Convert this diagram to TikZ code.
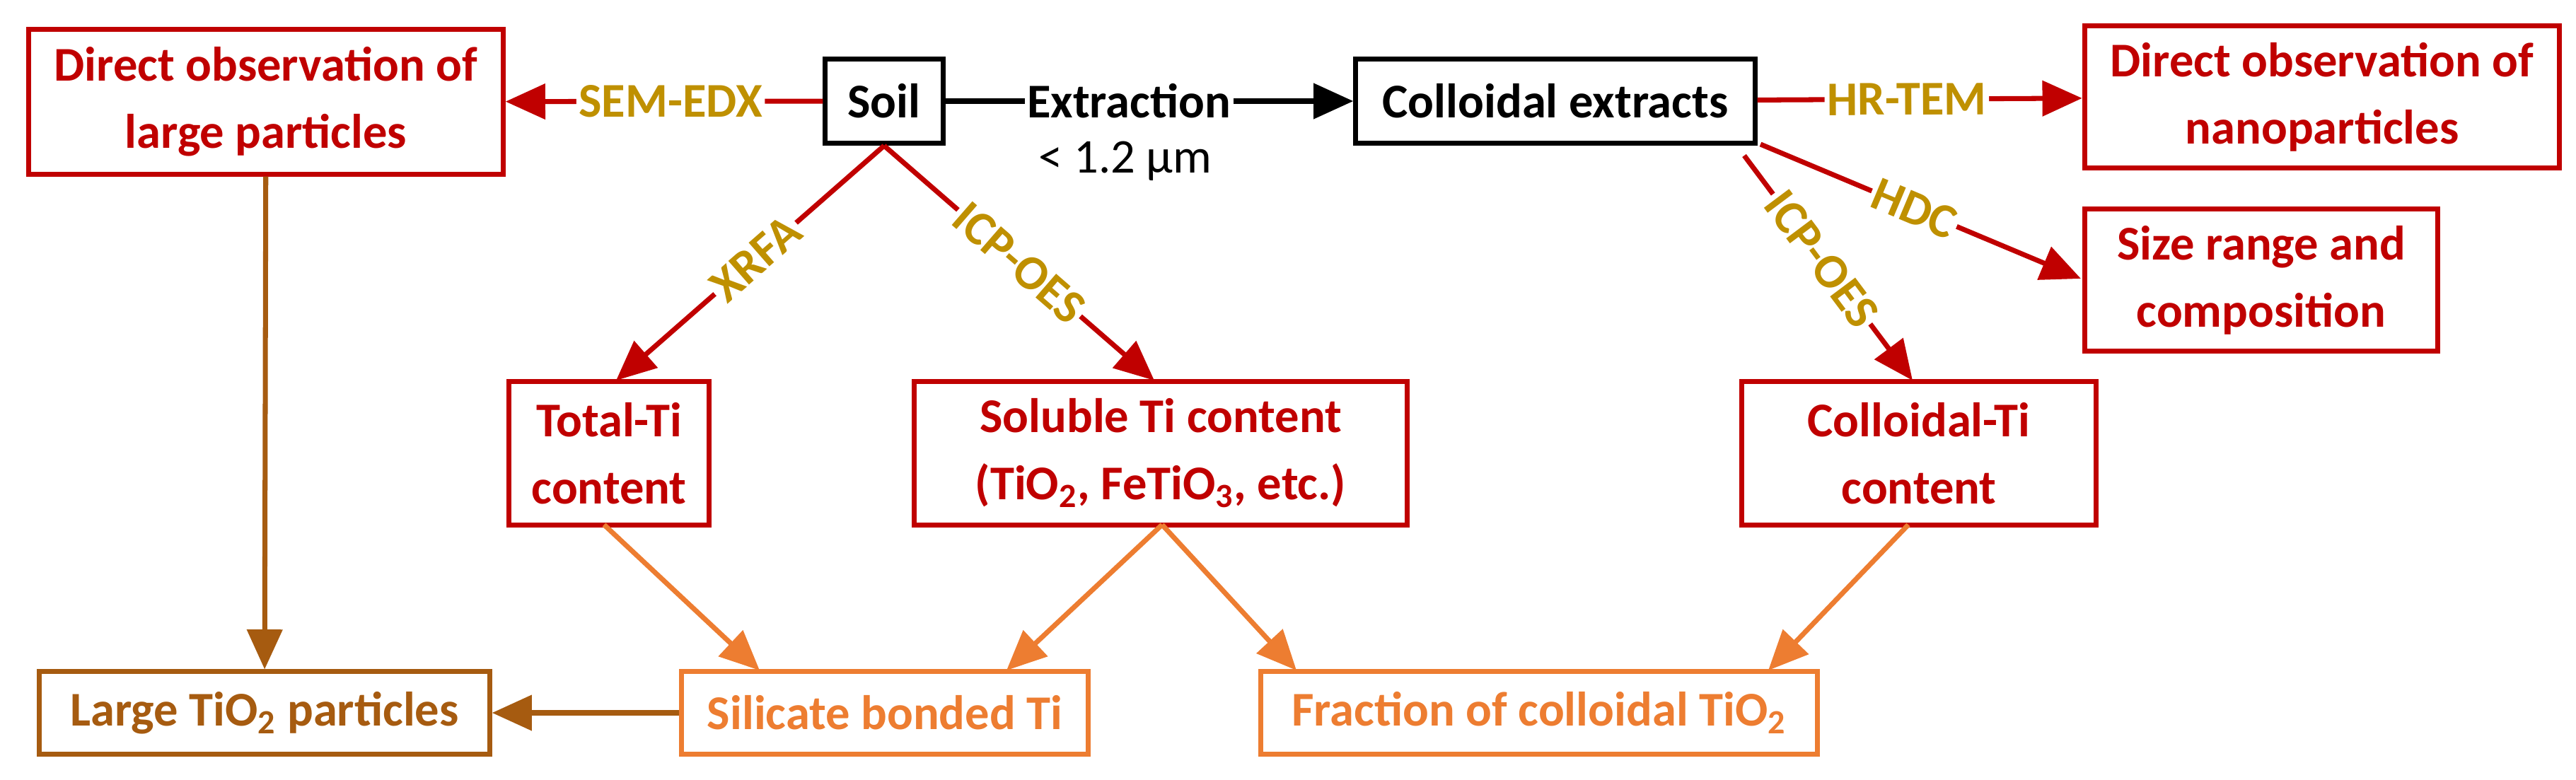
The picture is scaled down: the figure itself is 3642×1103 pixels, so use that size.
\documentclass[tikz,border=0pt]{standalone}
\usepackage{fontspec}
\setmainfont{Carlito}
\usetikzlibrary{arrows.meta}
\definecolor{cred}{HTML}{C00000}
\definecolor{cgold}{HTML}{BF9000}
\definecolor{corange}{HTML}{ED7D31}
\definecolor{cbrown}{HTML}{A65B10}
\begin{document}
\begin{tikzpicture}[x=0.01cm,y=-0.01cm,
  every node/.style={font=\fontsize{19.5}{27}\selectfont\bfseries},
  box/.style={draw, line width=2pt, align=center, inner sep=2pt},
  rbox/.style={box, draw=cred, text=cred},
  obox/.style={box, draw=corange, text=corange},
  arr/.style={line width=2pt, -{Triangle[length=16pt,width=14pt]}},
  lab/.style={fill=white, text=cgold, inner sep=1pt, sloped}]
\useasboundingbox (0,0) rectangle (3642,1103);
\node[rbox, minimum width=6.70cm, minimum height=2.04cm] (dl) at (376,144) {Direct observation of\\large particles};
\node[box, minimum width=1.66cm, minimum height=1.19cm] (soil) at (1250,143) {Soil};
\node[box, minimum width=5.64cm, minimum height=1.19cm] (ce) at (2199,143) {Colloidal extracts};
\node[rbox, minimum width=6.71cm, minimum height=2.01cm] (dn) at (3283,137) {Direct observation of\\nanoparticles};
\node[rbox, minimum width=4.99cm, minimum height=2.01cm] (sr) at (3197,396) {Size range and\\composition};
\node[rbox, minimum width=2.82cm, minimum height=2.02cm] (tt) at (861,641) {Total-Ti\\content};
\node[rbox, minimum width=6.96cm, minimum height=2.02cm] (st) at (1641,641) {Soluble Ti content\\(TiO\textsubscript{2}, FeTiO\textsubscript{3}, etc.)};
\node[rbox, minimum width=5.00cm, minimum height=2.02cm] (ct) at (2713,641) {Colloidal-Ti\\content};
\node[box, draw=cbrown, text=cbrown, minimum width=6.36cm, minimum height=1.16cm] (lt) at (374,1008) {Large TiO\textsubscript{2} particles};
\node[obox, minimum width=5.75cm, minimum height=1.16cm] (sb) at (1251,1008) {Silicate bonded Ti};
\node[obox, minimum width=7.87cm, minimum height=1.16cm] (fc) at (2176,1008) {Fraction of colloidal TiO\textsubscript{2}};
% top row
\draw[arr, cred] (soil) -- node[lab, pos=0.48] {SEM-EDX} (dl);
\draw[arr, black] (soil) -- node[fill=white, inner sep=1pt, pos=0.45] (ex) {Extraction} (ce);
\node[font=\fontsize{19.5}{24}\selectfont] (um) at (1591,228) {< 1.2 µm};
\draw[arr, cred] (ce) -- node[lab, pos=0.46] {HR-TEM} (dn);
\coordinate (h0) at (2489,204);
\coordinate (h1) at (2942,394);
\draw[arr, cred] (h0) -- node[lab, pos=0.48] {HDC} (h1);
% soil branches
\coordinate (s0) at (soil.south);
\coordinate (t0) at (871,538);
\coordinate (t1) at (1632,538);
\draw[arr, cred] (s0) -- node[lab, pos=0.48] {XRFA} (t0);
\draw[arr, cred] (s0) -- node[lab, pos=0.5] {ICP-OES} (t1);
\coordinate (c0) at (2466,220);
\coordinate (c1) at (2704,538);
\draw[arr, cred] (c0) -- node[lab, pos=0.46] {ICP-OES} (c1);
% lower
\draw[arr, cbrown] (dl) -- (lt);
\draw[arr, cbrown] (sb) -- (lt);
\coordinate (a0) at (854,742); \coordinate (a1) at (1074,948);
\coordinate (b0) at (1643,742); \coordinate (b1) at (1423,948);
\coordinate (b2) at (1833,948);
\coordinate (d0) at (2698,742); \coordinate (d1) at (2500,948);
\draw[arr, corange] (a0) -- (a1);
\draw[arr, corange] (b0) -- (b1);
\draw[arr, corange] (b0) -- (b2);
\draw[arr, corange] (d0) -- (d1);
\end{tikzpicture}
\end{document}
